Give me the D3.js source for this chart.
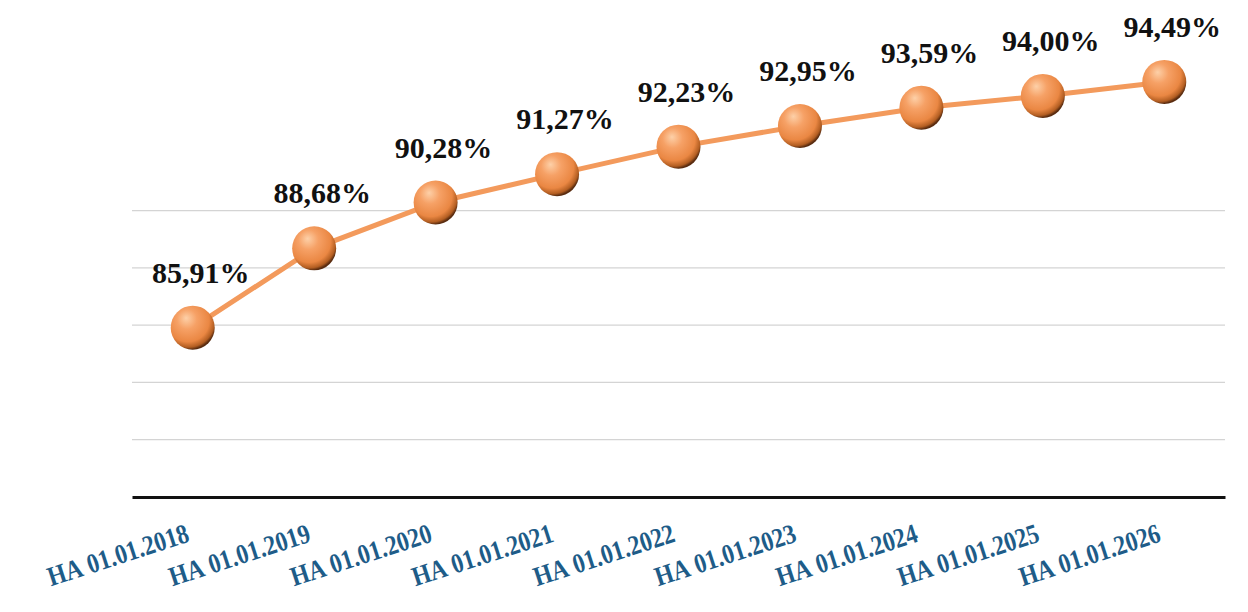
<!DOCTYPE html>
<html>
<head>
<meta charset="utf-8">
<script src="https://cdn.jsdelivr.net/npm/d3@7"></script>
<style>
  body { margin: 0; background: #fff; }
  svg { display: block; }
</style>
</head>
<body>
<svg width="1248" height="612"></svg>
<script>
var categories = ["НА 01.01.2018", "НА 01.01.2019", "НА 01.01.2020", "НА 01.01.2021", "НА 01.01.2022",
  "НА 01.01.2023", "НА 01.01.2024", "НА 01.01.2025", "НА 01.01.2026"];
var values = [85.91, 88.68, 90.28, 91.27, 92.23, 92.95, 93.59, 94.00, 94.49];
var gridTicks = [80, 82, 84, 86, 88, 90];

var margin = { top: 10, right: 23, bottom: 115, left: 132 };
var width = 1248 - margin.left - margin.right;
var height = 612 - margin.top - margin.bottom;

var svg = d3.select("svg");
var g = svg.append("g").attr("transform", "translate(" + margin.left + "," + margin.top + ")");

var x = d3.scaleBand().domain(categories).range([0, width]);
var y = d3.scaleLinear().domain([80, 97.0]).range([height, 0]);

var cx = function (d, i) { return x(categories[i]) + x.bandwidth() / 2; };

// sphere gradient
var defs = svg.append("defs");
var grad = defs.append("radialGradient")
  .attr("id", "ball")
  .attr("cx", "40%").attr("cy", "35%").attr("r", "65%")
  .attr("fx", "35%").attr("fy", "28%");
grad.append("stop").attr("offset", "0%").attr("stop-color", "#fdd0a8");
grad.append("stop").attr("offset", "35%").attr("stop-color", "#f6a166");
grad.append("stop").attr("offset", "75%").attr("stop-color", "#ea8743");
grad.append("stop").attr("offset", "92%").attr("stop-color", "#b35e22");
grad.append("stop").attr("offset", "100%").attr("stop-color", "#5a2c10");

// gridlines
g.append("g")
  .selectAll("line")
  .data(gridTicks.slice(1))
  .enter()
  .append("line")
  .attr("x1", 0)
  .attr("x2", width)
  .attr("y1", function (d) { return y(d); })
  .attr("y2", function (d) { return y(d); })
  .attr("stroke", "#d4d4d4")
  .attr("stroke-width", 1.2);

// x axis
var xAxis = g.append("g")
  .attr("transform", "translate(0," + y(80) + ")")
  .call(d3.axisBottom(x).tickSize(0).tickPadding(0));
xAxis.select(".domain").attr("stroke", "#111").attr("stroke-width", 3);
xAxis.selectAll(".tick text")
  .attr("font-family", "'Liberation Serif', 'Times New Roman', serif")
  .attr("font-weight", "bold")
  .attr("font-size", 25)
  .attr("fill", "#1e5c88")
  .attr("text-anchor", "end")
  .attr("y", 0)
  .attr("dy", 0)
  .attr("transform", "translate(-2,44) rotate(-18) scale(0.94,1.1)");

// line
var line = d3.line()
  .x(cx)
  .y(function (d) { return y(d); });

g.append("path")
  .datum(values)
  .attr("fill", "none")
  .attr("stroke", "#f39a5c")
  .attr("stroke-width", 5)
  .attr("d", line);

// markers
g.selectAll("circle.ball")
  .data(values)
  .enter()
  .append("circle")
  .attr("class", "ball")
  .attr("cx", cx)
  .attr("cy", function (d) { return y(d); })
  .attr("r", 22)
  .attr("fill", "url(#ball)");

// value labels
g.selectAll("text.val")
  .data(values)
  .enter()
  .append("text")
  .attr("class", "val")
  .attr("x", function (d, i) { return cx(d, i) + 8; })
  .attr("y", function (d) { return y(d) - 45; })
  .attr("text-anchor", "middle")
  .attr("font-family", "'Liberation Serif', 'Times New Roman', serif")
  .attr("font-weight", "bold")
  .attr("font-size", 30)
  .attr("fill", "#111")
  .text(function (d) { return d.toFixed(2).replace(".", ",") + "%"; });
</script>
</body>
</html>
